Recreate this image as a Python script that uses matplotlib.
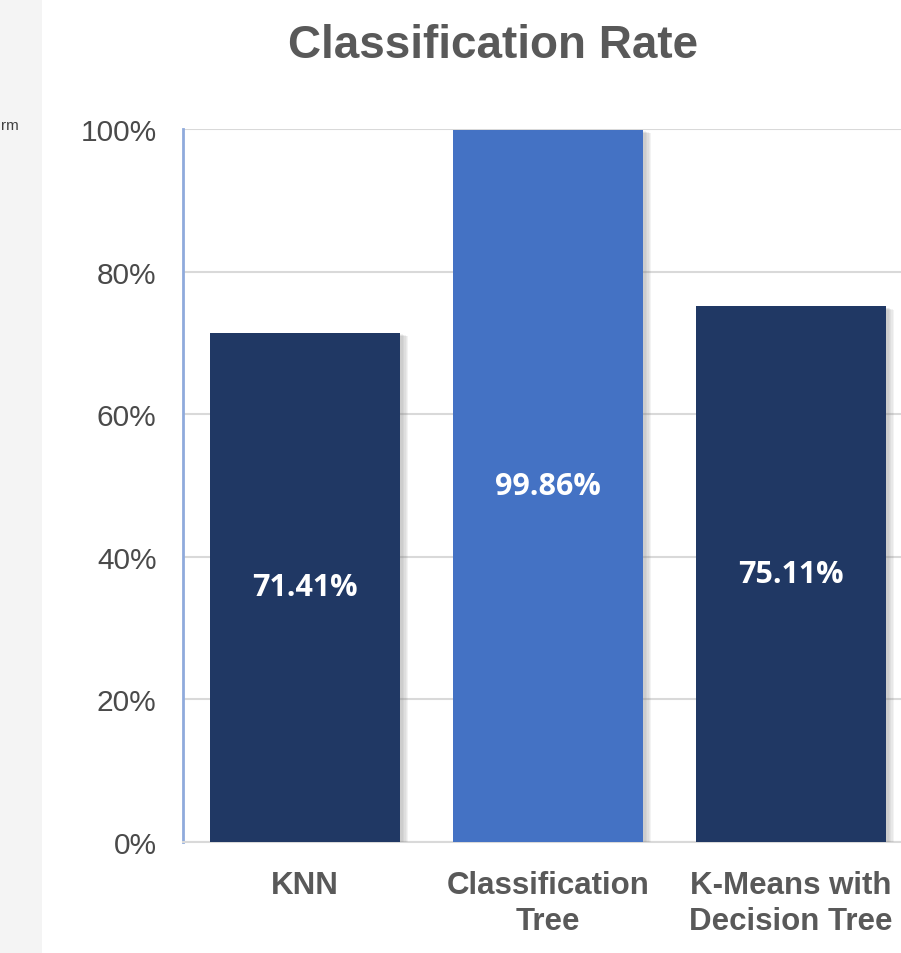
import matplotlib
matplotlib.use("Agg")
import matplotlib.pyplot as plt
import matplotlib.patheffects as pe
from matplotlib.patches import Rectangle

categories = ["KNN", "Classification\nTree", "K-Means with\nDecision Tree"]
rates = [71.41, 99.86, 75.11]
labels = ["71.41%", "99.86%", "75.11%"]
colors = ["#203864", "#4472c4", "#203864"]
yticks = [0, 20, 40, 60, 80, 100]
ytick_labels = ["0%", "20%", "40%", "60%", "80%", "100%"]

fig = plt.figure(figsize=(9.01, 9.54), dpi=100)
fig.patch.set_facecolor("white")
fig.patches.append(Rectangle((0, 0), 42 / 901, 1, transform=fig.transFigure,
                             facecolor="#f4f4f4", edgecolor="none", zorder=0))
fig.text(1 / 901, 1 - 126 / 954, "rm", fontsize=11, color="#404040",
         family="Liberation Sans", va="center", ha="left")

ax = fig.add_axes([183 / 901, 1 - 843 / 954, (901 - 183) / 901, 713 / 954])
x = range(len(categories))
bars = ax.bar(x, rates, width=0.782, color=colors, zorder=3)
shadow = [pe.SimplePatchShadow(offset=(d, -d * 0.4), shadow_rgbFace="#808080", alpha=0.09)
          for d in (6, 5, 4, 3, 2)]
for b in bars:
    b.set_path_effects(shadow + [pe.Normal()])

for i, (v, lab) in enumerate(zip(rates, labels)):
    ax.text(i, v / 2, lab, ha="center", va="center", color="white",
            fontsize=22, fontweight="bold", family="Open Sans", zorder=4)

ax.set_xlim(-0.502, 2.453)
ax.set_ylim(0, 100)
ax.set_yticks(yticks)
ax.set_yticklabels(ytick_labels, family="Liberation Sans", fontsize=21.5, color="#4a4a4a")
ax.set_xticks(list(x))
ax.set_xticklabels(categories, family="Liberation Sans", fontsize=22.5, fontweight="bold",
                   color="#595959", linespacing=1.25)
ax.tick_params(axis="y", length=0, pad=19)
ax.tick_params(axis="x", length=0, pad=20)
ax.grid(axis="y", color="#d9d9d9", linewidth=1.5, zorder=0)
ax.set_axisbelow(True)
for s in ["top", "right"]:
    ax.spines[s].set_visible(False)
ax.spines["left"].set_color("#8faadc")
ax.spines["left"].set_linewidth(2)
ax.spines["bottom"].set_color("#d9d9d9")
ax.spines["bottom"].set_linewidth(1.5)

fig.text(493 / 901, 1 - 46 / 954, "Classification Rate", ha="center", va="center",
         fontsize=33, fontweight="bold", color="#595959", family="Liberation Sans")

fig.savefig("out.png", dpi=100, facecolor="white")
